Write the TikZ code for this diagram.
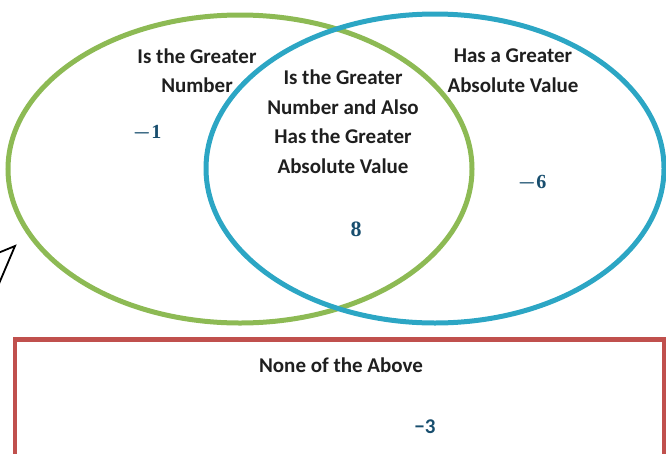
\documentclass[tikz,border=0pt]{standalone}
\usepackage{fontspec}
\setmainfont{Carlito}
\newfontfamily\numfont{Liberation Serif}
\usepackage{xcolor}
\usetikzlibrary{shapes.geometric, positioning}

\definecolor{vennGreen}{RGB}{141,186,84}
\definecolor{vennBlue}{RGB}{44,166,196}
\definecolor{boxRed}{RGB}{192,80,77}
\definecolor{numBlue}{RGB}{24,78,110}

\newcommand{\negnum}[1]{{\boldmath$-$}#1}

\begin{document}
\begin{tikzpicture}[
  x=1pt, y=-1pt,
  every node/.style = {font=\bfseries\fontsize{21}{29.5}\selectfont, text=black!88},
  ring/.style  = {ellipse, line width=5pt, inner sep=0pt},
  lbl/.style   = {align=center, inner sep=0pt},
  num/.style   = {text=numBlue, inner sep=0pt, font=\numfont\bfseries\fontsize{20}{22}\selectfont},
]

\clip (0,0) rectangle (666,453);
\useasboundingbox (0,0) rectangle (666,453);

% ── SETS ────────────────────────────────────────────────────────────────────
\node[ring, draw=vennGreen, minimum width=464, minimum height=308]
  at (240,169) (greater) {};
\node[ring, draw=vennBlue, minimum width=458, minimum height=309]
  at (435,168.5) (absval) {};

% none of the above
\draw[boxRed, line width=4.5pt] (15,339.5) rectangle (664.5,500);

% arrow tip at left edge
\draw[black, line width=1.8pt, line join=miter] (-2,253) -- (15,246) -- (-2,286);

% ── LABELS ──────────────────────────────────────────────────────────────────
\node[lbl] at (197,70.5) (lblA) {Is the Greater\\Number};
\node[lbl] at (343,121.5) (lblAB)
  {Is the Greater\\Number and Also\\Has the Greater\\Absolute Value};
\node[lbl] at (513,70.5) (lblB) {Has a Greater\\Absolute Value};
\node[lbl] at (341,365) (lblNone) {None of the Above};

% ── NUMBERS ─────────────────────────────────────────────────────────────────
\node[num] at (147,133) (nA) {\negnum{1}};
\node[num, font=\numfont\bfseries\fontsize{22}{24}\selectfont] at (356,229) (nAB) {8};
\node[num] at (532,183) (nB) {\negnum{6}};
\node[num, font=\bfseries\fontsize{21}{22}\selectfont] at (425,427) (nNone) {−3};

\end{tikzpicture}
\end{document}
